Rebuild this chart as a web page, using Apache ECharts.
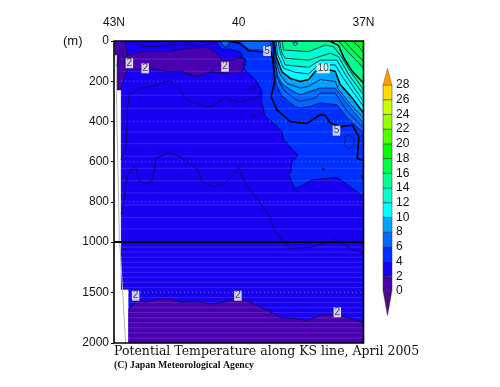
<!DOCTYPE html>
<html><head><meta charset="utf-8">
<style>html,body{margin:0;padding:0;background:#fff}#c{width:500px;height:387px}</style>
<script src="https://cdn.jsdelivr.net/npm/echarts@6/dist/echarts.min.js"></script>
</head><body><div id="c"></div>
<script>
// ---------- data (latitude °N, depth m) ----------
const xTickLabels = {43:'43N',40:'40',37:'37N'};
const xMajorTicks = [43,42,41,40,39,38,37];
const xMinorTicks = [42.94,42.87,42.78,42.66,42.5,42.25,42,41.67,41.33,41,40.65,40.33,39.67,39.33,39,38.67,38.33,37.95,37.65,37.33];
const yTicksUpper = [0,200,400,600,800,1000];
const yTicksLower = [1500,2000];
const bandLevels = [0,2,4,6,8,10,12,14,16,18,20,22,24,26,28];
const bandColors = ['#4800b0','#1800f0','#0030ff','#0068ff','#00a4ff','#00ffff','#00ffcc','#00ff90','#00ff48','#00ff00','#50ff00','#99ff00','#ccff00','#ffdd00'];
const underColor = '#4a0a80', overColor = '#ff9900';

const seaOutline = [[42.98,0],[42.98,70],[42.91,70],[42.91,244],[42.83,244],[42.83,1470],[42.65,1470],[42.65,2000],[37,2000],[37,0]];
const lens2 = [[42.98,0],[42.73,0],[42.69,70],[42.29,53],[41.73,53],[41.17,36],[40.77,32],[40.57,53],[40.41,95],[40.24,95],[39.96,86],[39.84,90],[39.84,119],[39.96,161],[40.33,161],[40.69,153],[41.01,177],[41.41,149],[41.65,153],[42.05,141],[42.45,141],[42.68,136],[42.71,161],[42.78,202],[42.82,235],[42.91,244],[42.91,70],[42.98,70]];
const deep2 = [[42.65,1666],[42.53,1624],[42.45,1574],[42.25,1597],[41.93,1564],[41.65,1564],[41.37,1597],[41.01,1591],[40.65,1614],[40.29,1591],[40.04,1548],[39.96,1558],[39.64,1614],[39.32,1673],[39,1749],[38.68,1756],[38.36,1779],[38,1723],[37.72,1723],[37.51,1732],[37,1798]];
const t4 = [[40.57,0],[40.41,41],[40.22,41],[39.96,53],[39.87,95],[39.88,136],[39.72,169],[39.56,202],[39.44,252],[39.46,293],[39.4,343],[39.36,376],[39.24,393],[38.96,451],[38.92,492],[38.58,567],[38.74,609],[38.72,642],[38.8,667],[38.64,736],[38.24,691],[37.63,678],[37,774]];
const t5 = [[40.26,0],[39.96,12],[39.76,48],[39.4,53],[39.22,56],[39.18,95],[39.14,202],[39.22,277],[39.08,343],[38.76,401],[38.36,410],[38.04,366],[37.92,370],[37.8,408],[37.55,426],[37.27,418],[37.11,476],[37.15,584],[37,595]];
const t6 = [[39.18,0],[39.16,95],[39.1,219],[38.96,274],[38.64,327],[38.52,333],[38.28,325],[38.04,308],[37.64,317],[37.39,383],[37,458]];
const t7 = [[39.18,0],[39.14,95],[39.07,186],[38.92,244],[38.64,290],[38.52,300],[38.16,284],[38.04,259],[37.68,259],[37.39,350],[37,433]];
const t8 = [[39.17,0],[39.14,78],[39.07,169],[38.96,214],[38.64,257],[38.52,267],[38.04,234],[37.68,234],[37.43,302],[37,408]];
const t9 = [[39.16,0],[39.13,78],[39.02,161],[38.84,211],[38.52,234],[38.32,225],[38.04,192],[37.68,201],[37.6,242],[37.31,317],[37,383]];
const t10 = [[39.14,0],[39.1,78],[38.96,153],[38.76,186],[38.52,201],[38.32,192],[38.16,151],[37.84,143],[37.68,151],[37.56,217],[37.27,284],[37,358]];
const t11 = [[39.1,0],[39.06,70],[38.92,136],[38.64,156],[38.32,164],[38.08,119],[37.68,119],[37.51,177],[37.23,260],[37,325]];
const t12 = [[39.06,0],[39,61],[38.88,119],[38.32,131],[38.04,95],[37.64,95],[37.43,169],[37.19,244],[37,300]];
const t13 = [[39.02,0],[38.96,61],[38.88,86],[38.32,95],[37.8,61],[37.6,78],[37.35,169],[37,267]];
const t14 = [[38.96,0],[38.92,45],[38.32,53],[37.92,20],[37.72,28],[37.56,70],[37.31,153],[37,242]];
const t15 = [[37.81,0],[37.6,22],[37.47,85],[37.27,151],[37,209]];
const t16 = [[37.6,0],[37.39,51],[37,134]];
const t17 = [[37.47,0],[37.19,61],[37,101]];
const t18 = [[37.27,0],[37.11,28],[37,60]];
const pocketWarmA = [[40.44,0],[40.36,28],[40.28,30],[40.22,5]];
const pocketWarmB = [[40.2,0],[39.96,5],[39.76,37],[39.4,41],[39.25,12],[39.24,0]];
const ringA = [[39.66,222],[39.58,235],[39.66,248],[39.74,235],[39.66,222]];
const ringB = [[39.64,365],[39.58,373],[39.64,381],[39.71,373],[39.64,365]];
const ringC = [[37.97,630],[37.94,638],[37.97,646],[38,638],[37.97,630]];
const ringD = [[37.35,468],[37.23,484],[37.23,517],[37.35,539],[37.47,517],[37.43,492],[37.46,476],[37.35,468]];
const ringE = [[37,660],[37.04,668],[37.04,682],[37,690]];
const ringF = [[38.64,5],[38.58,12],[38.64,22],[38.7,12],[38.64,5]];
const upper3 = [[42.53,0],[42.37,28],[41.97,28],[41.41,12],[40.93,25],[40.53,8],[40.45,0]];
const mid3 = [[42.83,590],[42.8,575],[42.71,526],[42.68,393],[42.69,360],[42.63,269],[42.37,235],[42.05,224],[41.69,197],[41.53,219],[41.41,252],[41.29,285],[41.05,310],[40.69,330],[40.41,293],[40.33,277],[40.2,293],[39.96,302],[39.56,285],[39.48,260]];
const low3 = [[42.83,860],[42.8,849],[42.73,741],[42.68,667],[42.53,625],[42.47,633],[42.41,691],[42.25,713],[42.09,700],[42.03,642],[42,584],[41.69,554],[41.41,575],[40.97,642],[40.89,700],[40.61,725],[40.33,708],[40,628],[39.96,650],[39.84,708],[39.48,808],[39.24,874],[39.16,932],[38.84,1030],[38.76,1062],[38.28,1052],[37.67,982],[37.39,1046],[37.23,1079],[37,1109]];
const leftPeak = [[42.93,128],[42.86,36],[42.78,61],[42.73,128]];
const bathymetry = [[42.95,70],[42.93,393],[42.87,1000],[42.85,1079],[42.72,2000]];
const stripeDepths = [90,150,270,335,453,511,573,633,695,756,816,878,936,998,1050,1100,1150,1200,1250,1300,1350,1400,1450,1550,1600,1650,1700,1750,1800,1850,1900,1950];
const dottedDepths = [200,400,600,800,1500];
const contourLabels = [[42.63,111,'2'],[42.25,136,'2'],[40.33,128,'2'],[42.48,1532,'2'],[40.02,1532,'2'],[37.63,1696,'2'],[39.32,50,'5'],[37.97,136,'10'],[37.65,446,'5']];

// ---------- draw list built from the arrays above ----------
const corner = c => c.concat([[37,0]]);
const col = T => bandColors[bandLevels.indexOf(T)];
const thin = 0.8, thick = 1.5, ink = '#08084a';
const drawList = [];
const fill = (pts,color) => drawList.push({pts,color,closed:true});
const line = (pts,color,width,dash) => drawList.push({pts,stroke:color,width,dash});
fill(seaOutline,col(2));
fill(lens2,col(0));
fill(deep2.concat([[37,2000],[42.65,2000]]),col(0));
fill(corner(t4),col(4));
fill(pocketWarmA,col(6)); fill(pocketWarmB,col(6));
fill(ringA,col(2)); fill(ringB,col(2)); fill(ringC,col(2));
[[t6,6],[t8,8],[t10,10],[t12,12],[t14,14],[t16,16],[t18,18]].forEach(([c,T])=>fill(corner(c),col(T)));
stripeDepths.forEach(d=>line([[d>1470?42.65:42.83,d],[37,d]],'rgba(255,255,255,0.14)',1));
dottedDepths.forEach(d=>line([[d===1500?42.95:42.83,d],[37,d]],'rgba(255,255,255,0.4)',1,[1,3]));
line(bathymetry,'#b4b4b4',1);
[lens2.concat([lens2[0]]).slice(1,27),deep2,t4,t6,t7,t8,t9,t11,t12,t13,t14,t16,t17,t18,ringA,ringB,ringC,ringD,ringE,ringF,upper3,mid3,low3,leftPeak,pocketWarmA].forEach(c=>line(c,ink,thin));
[t5,t10,t15].forEach(c=>line(c,'#000',thick));

const frameList = [
  {g:0,pts:[[43,1000],[43,0],[37,0],[37,1000]],w:1.6},
  {g:1,pts:[[43,1000],[43,2000],[37,2000],[37,1000]],w:1.6},
  {g:0,pts:[[43,1000],[37,1000]],w:2.2}
];

function renderShape(params,api){
  const it = drawList[api.value(0)];
  const points = it.pts.map(p=>api.coord(p));
  if(it.closed) return {type:'polygon',shape:{points},style:{fill:it.color,stroke:it.color,lineWidth:0.3}};
  return {type:'polyline',shape:{points},style:{fill:null,stroke:it.stroke,lineWidth:it.width,lineDash:it.dash||null}};
}
const shapeData = drawList.map((_,i)=>[i]);
const gridSeries = g => ([
 {type:'custom',xAxisIndex:g,yAxisIndex:g,clip:true,silent:true,z:3,data:shapeData,renderItem:renderShape,animation:false},
 {type:'custom',xAxisIndex:g,yAxisIndex:g,clip:false,silent:true,z:6,
  data:frameList.map((f,i)=>[i]).filter(d=>frameList[d[0]].g===g),animation:false,
  renderItem:(p,api)=>{const f=frameList[api.value(0)];return {type:'polyline',shape:{points:f.pts.map(q=>api.coord(q))},style:{fill:null,stroke:'#000',lineWidth:f.w}};}},
 {type:'scatter',xAxisIndex:g,yAxisIndex:g,symbolSize:0,z:8,silent:true,animation:false,
  data:contourLabels.filter(l=>g===0?l[1]<1000:l[1]>=1000),
  label:{show:true,position:'inside',formatter:q=>q.value[2],backgroundColor:'#fff',color:'#222',fontFamily:'Liberation Sans',fontSize:10,lineHeight:10,padding:[0,1,0,1]}}
]);

const labelFont = {fontFamily:'Liberation Sans',fontSize:12,color:'#111'};
const bandData = bandColors.map((c,i)=>[bandLevels[i],bandLevels[i+1],i]);
const option = {
 animation:false,backgroundColor:'#fff',
 grid:[
  {left:114,top:41,width:249.5,height:201},
  {left:114,top:242,width:249.5,height:101},
  {left:383,top:85,width:9,height:206},
  {left:114,top:41,width:249.5,height:201}
 ],
 xAxis:[
  {gridIndex:0,type:'value',min:37,max:43,inverse:true,position:'top',offset:13,
   axisLine:{show:true,lineStyle:{color:'#999',width:1}},
   axisTick:{show:true,inside:true,length:6,customValues:xMajorTicks,lineStyle:{color:'#999'}},
   axisLabel:{...labelFont,margin:-1,customValues:[43,40,37],formatter:v=>xTickLabels[v]||''},splitLine:{show:false}},
  {gridIndex:1,type:'value',min:37,max:43,inverse:true,show:false,splitLine:{show:false}},
  {gridIndex:2,type:'value',min:0,max:1,show:false,splitLine:{show:false}},
  {gridIndex:3,type:'value',min:37,max:43,inverse:true,position:'top',offset:13,
   axisLine:{show:false},axisTick:{show:true,inside:true,length:3,customValues:xMinorTicks,lineStyle:{color:'#999'}},
   axisLabel:{show:false},splitLine:{show:false}}
 ],
 yAxis:[
  {gridIndex:0,type:'value',min:0,max:1000,inverse:true,axisLine:{show:false},
   axisTick:{show:true,length:3,customValues:yTicksUpper,lineStyle:{color:'#000'}},
   axisLabel:{...labelFont,margin:5,customValues:yTicksUpper,formatter:v=>String(v)},splitLine:{show:false}},
  {gridIndex:1,type:'value',min:1000,max:2000,inverse:true,axisLine:{show:false},
   axisTick:{show:true,length:3,customValues:yTicksLower,lineStyle:{color:'#000'}},
   axisLabel:{...labelFont,margin:5,customValues:yTicksLower,formatter:v=>String(v)},splitLine:{show:false}},
  {gridIndex:2,type:'value',min:0,max:28,interval:2,position:'right',axisLine:{show:false},
   axisTick:{show:true,length:3,lineStyle:{color:'#000'}},
   axisLabel:{...labelFont,margin:4},splitLine:{show:false}},
  {gridIndex:3,type:'value',min:0,max:1000,inverse:true,show:false,splitLine:{show:false}}
 ],
 series:[
  ...gridSeries(0),...gridSeries(1),
  {type:'custom',xAxisIndex:2,yAxisIndex:2,clip:false,silent:true,animation:false,data:bandData,
   renderItem:(p,api)=>{
     const a=api.coord([0,api.value(0)]),b=api.coord([1,api.value(1)]);
     return {type:'rect',shape:{x:a[0],y:b[1],width:b[0]-a[0],height:a[1]-b[1]},style:{fill:bandColors[api.value(2)],stroke:'#333',lineWidth:0.5}};
   }},
  {type:'custom',xAxisIndex:2,yAxisIndex:2,clip:false,silent:true,animation:false,
   data:[[0,-3.4,0],[28,30.3,1]],
   renderItem:(p,api)=>{
     const base=api.value(0),tip=api.value(1);
     return {type:'polygon',shape:{points:[api.coord([0,base]),api.coord([1,base]),api.coord([0.5,tip])]},
       style:{fill:api.value(2)?overColor:underColor,stroke:'#555',lineWidth:0.4}};
   }},
  {type:'line',xAxisIndex:3,yAxisIndex:3,data:[],silent:true}
 ],
 graphic:[
  {type:'text',left:63,top:35,style:{text:'(m)',font:'13px "Liberation Sans"',fill:'#111'}},
  {type:'text',left:114,top:345,style:{text:'Potential Temperature along KS line, April 2005',font:'12.5px "DejaVu Serif"',fill:'#111'}},
  {type:'text',left:114,top:360,style:{text:'(C) Japan Meteorological Agency',font:'bold 9.8px "Liberation Serif"',fill:'#111'}}
 ]
};
echarts.init(document.getElementById('c'),null,{renderer:'canvas'}).setOption(option);
</script></body></html>
